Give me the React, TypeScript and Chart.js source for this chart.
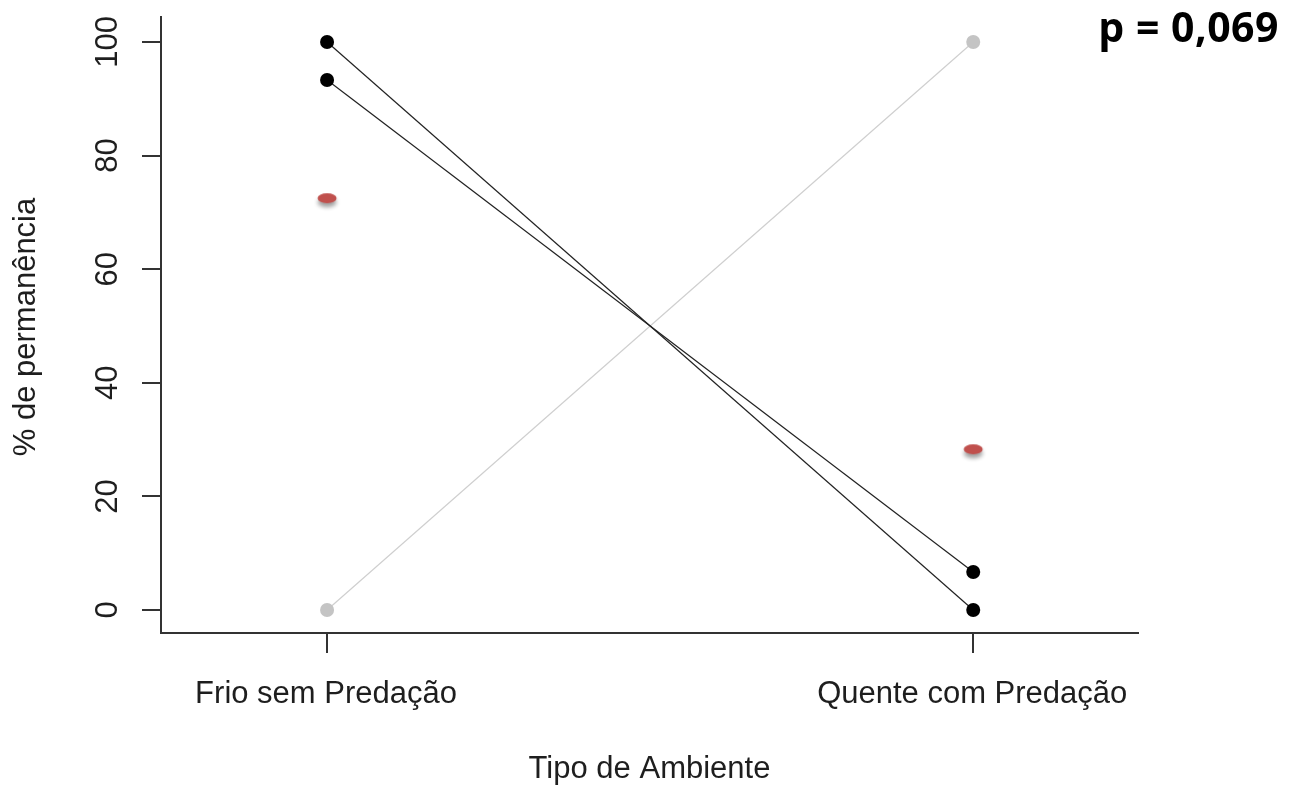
import React, { useEffect, useRef } from "react";
import { Chart, registerables } from "chart.js";

Chart.register(...registerables);

const categories = ["Frio sem Predação", "Quente com Predação"];
const categoryX = [1, 2];
const seriesA = [100, 0];
const seriesB = [93.3, 6.7];
const seriesC = [0, 100];
const means = [72.5, 28.3];
const yTicks = [0, 20, 40, 60, 80, 100];
const yTickLabels = ["0", "20", "40", "60", "80", "100"];
const xTitle = "Tipo de Ambiente";
const yTitle = "% de permanência";
const pLabel = "p = 0,069";

const FONT = '"Liberation Sans", Arial, sans-serif';
const TEXT = "#1e1e1e";

function makeEllipse(): HTMLCanvasElement {
  const c = document.createElement("canvas");
  c.width = 34;
  c.height = 34;
  const ctx = c.getContext("2d")!;
  ctx.save();
  ctx.shadowColor = "rgba(0,0,0,0.38)";
  ctx.shadowBlur = 4;
  ctx.shadowOffsetY = 4;
  ctx.fillStyle = "#c0504d";
  ctx.beginPath();
  ctx.ellipse(17, 17, 9.5, 5, 0, 0, Math.PI * 2);
  ctx.fill();
  ctx.restore();
  return c;
}

const textPlugin = {
  id: "textPlugin",
  afterDraw(chart: any) {
    const ctx = chart.ctx as CanvasRenderingContext2D;
    const xs = chart.scales.x;
    const ys = chart.scales.y;
    const area = chart.chartArea;
    ctx.save();
    ctx.fillStyle = TEXT;
    ctx.font = `31px ${FONT}`;
    yTicks.forEach((v, i) => {
      const y = ys.getPixelForValue(v);
      ctx.save();
      ctx.translate(117, y);
      ctx.rotate(-Math.PI / 2);
      ctx.textAlign = "center";
      ctx.textBaseline = "alphabetic";
      ctx.fillText(yTickLabels[i], 0, 0);
      ctx.restore();
    });
    categories.forEach((c, i) => {
      const x = xs.getPixelForValue(categoryX[i]);
      ctx.textAlign = "center";
      ctx.textBaseline = "alphabetic";
      ctx.fillText(c, x - 1, 703);
    });
    ctx.textAlign = "center";
    ctx.fillText(xTitle, (area.left + area.right) / 2, 778);
    ctx.save();
    ctx.translate(35, (area.top + area.bottom) / 2 + 2);
    ctx.rotate(-Math.PI / 2);
    ctx.textAlign = "center";
    ctx.fillText(yTitle, 0, 0);
    ctx.restore();
    ctx.fillStyle = "#000";
    ctx.font = `bold 41px "Open Sans", ${FONT}`;
    ctx.textAlign = "right";
    (ctx as any).letterSpacing = "0.5px";
    ctx.fillText(pLabel, 1279, 42);
    ctx.restore();
  },
};

export default function App() {
  const ref = useRef<HTMLCanvasElement>(null);
  useEffect(() => {
    if (!ref.current) return;
    const ellipse = makeEllipse();
    const toPts = (vals: number[]) => vals.map((v, i) => ({ x: categoryX[i], y: v }));
    const chart = new Chart(ref.current, {
      type: "scatter",
      data: {
        datasets: [
          {
            data: toPts(means),
            showLine: false,
            pointStyle: ellipse as any,
            pointRadius: 10,
            order: 0,
          },
          {
            data: toPts(seriesA),
            showLine: true,
            borderColor: "#222",
            borderWidth: 1.2,
            pointBackgroundColor: "#000",
            pointBorderColor: "#000",
            pointBorderWidth: 0,
            pointRadius: 7,
            order: 1,
          },
          {
            data: toPts(seriesB),
            showLine: true,
            borderColor: "#222",
            borderWidth: 1.2,
            pointBackgroundColor: "#000",
            pointBorderColor: "#000",
            pointBorderWidth: 0,
            pointRadius: 7,
            order: 2,
          },
          {
            data: toPts(seriesC),
            showLine: true,
            borderColor: "#cfcfcf",
            borderWidth: 1.2,
            pointBackgroundColor: "#c4c4c4",
            pointBorderColor: "#c4c4c4",
            pointBorderWidth: 0,
            pointRadius: 7,
            order: 3,
          },
        ],
      },
      options: {
        animation: false,
        responsive: false,
        devicePixelRatio: 1,
        layout: { padding: { top: 17, right: 152, left: 0, bottom: 0 } },
        plugins: { legend: { display: false }, tooltip: { enabled: false } },
        scales: {
          x: {
            type: "linear",
            min: 0.743,
            max: 2.255,
            afterBuildTicks: (s: any) => {
              s.ticks = categoryX.map((v) => ({ value: v }));
            },
            afterFit: (s: any) => {
              s.height = 154;
            },
            ticks: { display: false },
            grid: {
              drawOnChartArea: false,
              drawTicks: true,
              tickLength: 20,
              color: "#333",
              lineWidth: 2,
            },
            border: { display: true, color: "#333", width: 2 },
          },
          y: {
            type: "linear",
            min: -4.05,
            max: 104.4,
            afterBuildTicks: (s: any) => {
              s.ticks = yTicks.map((v) => ({ value: v }));
            },
            afterFit: (s: any) => {
              s.width = 161;
            },
            ticks: { display: false },
            grid: {
              drawOnChartArea: false,
              drawTicks: true,
              tickLength: 19,
              color: "#333",
              lineWidth: 2,
            },
            border: { display: true, color: "#333", width: 2 },
          },
        },
      },
      plugins: [textPlugin],
    });
    return () => chart.destroy();
  }, []);
  return (
    <div style={{ position: "absolute", left: 0, top: 0, width: 1290, height: 787, background: "#fff" }}>
      <canvas ref={ref} width={1290} height={787} style={{ width: 1290, height: 787, display: "block" }} />
    </div>
  );
}
